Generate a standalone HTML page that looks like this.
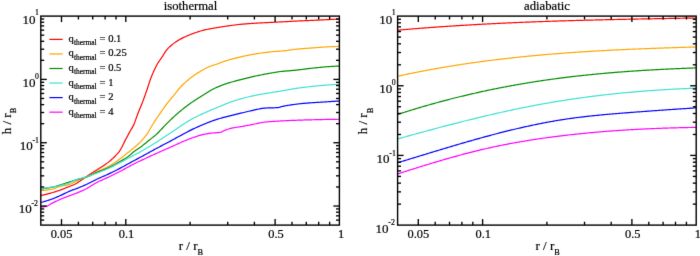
<!DOCTYPE html>
<html><head><meta charset="utf-8"><style>
html,body{margin:0;padding:0;background:#fff;width:700px;height:256px;overflow:hidden}
svg{display:block;will-change:transform}
.wrap{}
text{font-family:"Liberation Serif", serif;fill:#000;stroke:#000;stroke-width:0.2px}
</style></head><body>
<div class="wrap"><svg width="700" height="256" viewBox="0 0 700 256">
<defs><filter id="bl" x="0" y="0" width="700" height="256" filterUnits="userSpaceOnUse" color-interpolation-filters="sRGB"><feConvolveMatrix order="3" kernelMatrix="0.0064 0.0672 0.0064 0.0672 0.7056 0.0672 0.0064 0.0672 0.0064" edgeMode="duplicate"/></filter></defs>
<rect width="700" height="256" fill="#fff"/>
<g filter="url(#bl)">
<rect width="700" height="256" fill="#fff"/>
<defs><clipPath id="c1"><rect x="40.8" y="16.1" width="298.59999999999997" height="209.0"/></clipPath><clipPath id="c2"><rect x="397.6" y="16.1" width="298.6" height="209.0"/></clipPath></defs>
<g clip-path="url(#c1)">
<polyline points="40.8,195.50 41.8,195.29 42.8,195.07 43.8,194.84 44.8,194.61 45.8,194.36 46.8,194.12 47.8,193.86 48.8,193.60 49.8,193.33 50.8,193.06 51.8,192.78 52.8,192.50 53.8,192.21 54.8,191.91 55.8,191.60 56.8,191.28 57.8,190.94 58.8,190.60 59.8,190.25 60.8,189.88 61.8,189.50 62.8,189.11 63.8,188.71 64.8,188.30 65.8,187.89 66.8,187.48 67.8,187.08 68.8,186.69 69.8,186.31 70.8,185.94 71.8,185.56 72.8,185.17 73.8,184.75 74.8,184.30 75.8,183.79 76.8,183.20 77.8,182.53 78.8,181.83 79.8,181.13 80.8,180.47 81.8,179.80 82.8,179.13 83.8,178.45 84.8,177.78 85.8,177.10 86.8,176.43 87.8,175.76 88.8,175.10 89.8,174.44 90.8,173.78 91.8,173.12 92.8,172.47 93.8,171.82 94.8,171.17 95.8,170.53 96.8,169.90 97.8,169.28 98.8,168.67 99.8,168.06 100.8,167.43 101.8,166.79 102.8,166.14 103.8,165.47 104.8,164.79 105.8,164.10 106.8,163.39 107.8,162.64 108.8,161.86 109.8,161.05 110.8,160.19 111.8,159.31 112.8,158.39 113.8,157.44 114.8,156.45 115.8,155.45 116.8,154.42 117.8,153.32 118.8,152.10 119.8,150.72 120.8,149.07 121.8,147.21 122.8,145.22 123.8,143.17 124.8,141.14 125.8,139.23 126.8,137.35 127.8,135.47 128.8,133.61 129.8,131.78 130.8,130.01 131.8,128.37 132.8,126.66 133.8,124.63 134.8,122.16 135.8,119.40 136.8,116.54 137.8,113.78 138.8,111.24 139.8,108.80 140.8,106.40 141.8,103.95 142.8,101.40 143.8,98.71 144.8,95.93 145.8,93.08 146.8,90.21 147.8,87.22 148.8,84.13 149.8,81.09 150.8,78.26 151.8,75.75 152.8,73.37 153.8,71.11 154.8,68.97 155.8,66.95 156.8,65.05 157.8,63.29 158.8,61.69 159.8,60.22 160.8,58.81 161.8,57.39 162.8,55.89 163.8,54.28 164.8,52.67 165.8,51.16 166.8,49.86 167.8,48.71 168.8,47.66 169.8,46.69 170.8,45.79 171.8,44.94 172.8,44.13 173.8,43.36 174.8,42.63 175.8,41.92 176.8,41.26 177.8,40.62 178.8,40.02 179.8,39.44 180.8,38.90 181.8,38.38 182.8,37.88 183.8,37.40 184.8,36.94 185.8,36.49 186.8,36.04 187.8,35.61 188.8,35.18 189.8,34.76 190.8,34.35 191.8,33.95 192.8,33.57 193.8,33.21 194.8,32.87 195.8,32.54 196.8,32.21 197.8,31.90 198.8,31.59 199.8,31.29 200.8,31.00 201.8,30.72 202.8,30.45 203.8,30.19 204.8,29.94 205.8,29.70 206.8,29.48 207.8,29.27 208.8,29.06 209.8,28.87 210.8,28.68 211.8,28.50 212.8,28.33 213.8,28.16 214.8,27.99 215.8,27.83 216.8,27.66 217.8,27.50 218.8,27.33 219.8,27.17 220.8,27.01 221.8,26.85 222.8,26.69 223.8,26.53 224.8,26.38 225.8,26.23 226.8,26.08 227.8,25.93 228.8,25.79 229.8,25.65 230.8,25.52 231.8,25.39 232.8,25.25 233.8,25.12 234.8,25.00 235.8,24.87 236.8,24.75 237.8,24.63 238.8,24.52 239.8,24.41 240.8,24.31 241.8,24.21 242.8,24.12 243.8,24.03 244.8,23.94 245.8,23.86 246.8,23.78 247.8,23.70 248.8,23.63 249.8,23.55 250.8,23.48 251.8,23.42 252.8,23.35 253.8,23.29 254.8,23.23 255.8,23.17 256.8,23.11 257.8,23.06 258.8,23.01 259.8,22.96 260.8,22.91 261.8,22.86 262.8,22.81 263.8,22.76 264.8,22.71 265.8,22.66 266.8,22.61 267.8,22.56 268.8,22.50 269.8,22.45 270.8,22.40 271.8,22.35 272.8,22.30 273.8,22.25 274.8,22.20 275.8,22.15 276.8,22.09 277.8,22.04 278.8,21.99 279.8,21.94 280.8,21.89 281.8,21.84 282.8,21.79 283.8,21.74 284.8,21.68 285.8,21.63 286.8,21.58 287.8,21.53 288.8,21.48 289.8,21.43 290.8,21.38 291.8,21.32 292.8,21.27 293.8,21.22 294.8,21.17 295.8,21.12 296.8,21.07 297.8,21.02 298.8,20.97 299.8,20.92 300.8,20.87 301.8,20.83 302.8,20.78 303.8,20.74 304.8,20.70 305.8,20.66 306.8,20.62 307.8,20.58 308.8,20.54 309.8,20.49 310.8,20.45 311.8,20.40 312.8,20.36 313.8,20.31 314.8,20.26 315.8,20.21 316.8,20.16 317.8,20.10 318.8,20.05 319.8,20.00 320.8,19.95 321.8,19.89 322.8,19.84 323.8,19.79 324.8,19.74 325.8,19.69 326.8,19.64 327.8,19.59 328.8,19.54 329.8,19.48 330.8,19.43 331.8,19.38 332.8,19.33 333.8,19.28 334.8,19.23 335.8,19.18 336.8,19.13 337.8,19.08 338.8,19.03 339.4,19.00" fill="none" stroke="#ff0000" stroke-width="1.2" stroke-linejoin="round"/>
<polyline points="40.8,190.50 41.8,190.49 42.8,190.44 43.8,190.38 44.8,190.29 45.8,190.18 46.8,190.06 47.8,189.92 48.8,189.77 49.8,189.60 50.8,189.43 51.8,189.25 52.8,189.04 53.8,188.73 54.8,188.35 55.8,187.92 56.8,187.47 57.8,187.04 58.8,186.66 59.8,186.35 60.8,186.12 61.8,185.94 62.8,185.78 63.8,185.64 64.8,185.49 65.8,185.34 66.8,185.16 67.8,184.95 68.8,184.68 69.8,184.34 70.8,183.94 71.8,183.49 72.8,183.01 73.8,182.50 74.8,181.97 75.8,181.44 76.8,180.91 77.8,180.40 78.8,179.92 79.8,179.48 80.8,179.08 81.8,178.71 82.8,178.36 83.8,178.02 84.8,177.68 85.8,177.33 86.8,176.96 87.8,176.57 88.8,176.14 89.8,175.66 90.8,175.12 91.8,174.54 92.8,173.94 93.8,173.33 94.8,172.75 95.8,172.20 96.8,171.71 97.8,171.24 98.8,170.79 99.8,170.36 100.8,169.94 101.8,169.53 102.8,169.12 103.8,168.70 104.8,168.27 105.8,167.83 106.8,167.36 107.8,166.86 108.8,166.34 109.8,165.78 110.8,165.19 111.8,164.57 112.8,163.93 113.8,163.27 114.8,162.59 115.8,161.90 116.8,161.20 117.8,160.50 118.8,159.78 119.8,159.04 120.8,158.28 121.8,157.50 122.8,156.72 123.8,155.93 124.8,155.13 125.8,154.34 126.8,153.55 127.8,152.77 128.8,151.97 129.8,151.17 130.8,150.36 131.8,149.54 132.8,148.71 133.8,147.86 134.8,147.01 135.8,146.17 136.8,145.31 137.8,144.43 138.8,143.52 139.8,142.57 140.8,141.57 141.8,140.51 142.8,139.39 143.8,138.21 144.8,136.97 145.8,135.66 146.8,134.30 147.8,132.86 148.8,131.25 149.8,129.52 150.8,127.73 151.8,125.97 152.8,124.30 153.8,122.73 154.8,121.19 155.8,119.69 156.8,118.21 157.8,116.75 158.8,115.30 159.8,113.85 160.8,112.41 161.8,110.96 162.8,109.51 163.8,108.06 164.8,106.63 165.8,105.22 166.8,103.85 167.8,102.52 168.8,101.25 169.8,100.04 170.8,98.89 171.8,97.75 172.8,96.61 173.8,95.42 174.8,94.17 175.8,92.86 176.8,91.53 177.8,90.23 178.8,89.00 179.8,87.85 180.8,86.77 181.8,85.73 182.8,84.73 183.8,83.76 184.8,82.83 185.8,81.92 186.8,81.04 187.8,80.18 188.8,79.34 189.8,78.53 190.8,77.74 191.8,76.97 192.8,76.23 193.8,75.52 194.8,74.82 195.8,74.15 196.8,73.50 197.8,72.87 198.8,72.25 199.8,71.65 200.8,71.06 201.8,70.48 202.8,69.91 203.8,69.34 204.8,68.79 205.8,68.26 206.8,67.75 207.8,67.27 208.8,66.83 209.8,66.44 210.8,66.07 211.8,65.74 212.8,65.42 213.8,65.10 214.8,64.79 215.8,64.47 216.8,64.14 217.8,63.78 218.8,63.40 219.8,63.01 220.8,62.62 221.8,62.24 222.8,61.86 223.8,61.50 224.8,61.16 225.8,60.85 226.8,60.54 227.8,60.24 228.8,59.94 229.8,59.66 230.8,59.37 231.8,59.10 232.8,58.83 233.8,58.56 234.8,58.30 235.8,58.05 236.8,57.80 237.8,57.56 238.8,57.32 239.8,57.08 240.8,56.85 241.8,56.63 242.8,56.40 243.8,56.18 244.8,55.97 245.8,55.75 246.8,55.54 247.8,55.34 248.8,55.14 249.8,54.94 250.8,54.75 251.8,54.56 252.8,54.38 253.8,54.21 254.8,54.04 255.8,53.87 256.8,53.71 257.8,53.56 258.8,53.41 259.8,53.26 260.8,53.11 261.8,52.97 262.8,52.83 263.8,52.70 264.8,52.56 265.8,52.44 266.8,52.31 267.8,52.19 268.8,52.08 269.8,51.97 270.8,51.86 271.8,51.76 272.8,51.66 273.8,51.58 274.8,51.50 275.8,51.42 276.8,51.35 277.8,51.28 278.8,51.21 279.8,51.13 280.8,51.06 281.8,50.99 282.8,50.90 283.8,50.82 284.8,50.72 285.8,50.61 286.8,50.49 287.8,50.35 288.8,50.20 289.8,50.05 290.8,49.90 291.8,49.75 292.8,49.60 293.8,49.46 294.8,49.34 295.8,49.23 296.8,49.13 297.8,49.04 298.8,48.95 299.8,48.86 300.8,48.78 301.8,48.70 302.8,48.62 303.8,48.54 304.8,48.47 305.8,48.40 306.8,48.32 307.8,48.25 308.8,48.18 309.8,48.11 310.8,48.03 311.8,47.96 312.8,47.88 313.8,47.81 314.8,47.73 315.8,47.65 316.8,47.57 317.8,47.50 318.8,47.42 319.8,47.35 320.8,47.28 321.8,47.21 322.8,47.14 323.8,47.08 324.8,47.02 325.8,46.96 326.8,46.91 327.8,46.86 328.8,46.81 329.8,46.76 330.8,46.71 331.8,46.67 332.8,46.63 333.8,46.59 334.8,46.55 335.8,46.51 336.8,46.48 337.8,46.45 338.8,46.42 339.4,46.40" fill="none" stroke="#ffa500" stroke-width="1.2" stroke-linejoin="round"/>
<polyline points="40.8,189.00 41.8,188.90 42.8,188.79 43.8,188.66 44.8,188.52 45.8,188.37 46.8,188.21 47.8,188.03 48.8,187.85 49.8,187.66 50.8,187.46 51.8,187.26 52.8,187.05 53.8,186.81 54.8,186.54 55.8,186.26 56.8,185.97 57.8,185.66 58.8,185.36 59.8,185.06 60.8,184.76 61.8,184.46 62.8,184.14 63.8,183.83 64.8,183.50 65.8,183.18 66.8,182.85 67.8,182.52 68.8,182.19 69.8,181.86 70.8,181.53 71.8,181.20 72.8,180.88 73.8,180.56 74.8,180.25 75.8,179.94 76.8,179.64 77.8,179.36 78.8,179.08 79.8,178.81 80.8,178.55 81.8,178.28 82.8,178.01 83.8,177.73 84.8,177.44 85.8,177.14 86.8,176.83 87.8,176.49 88.8,176.14 89.8,175.74 90.8,175.29 91.8,174.81 92.8,174.31 93.8,173.80 94.8,173.30 95.8,172.84 96.8,172.41 97.8,172.00 98.8,171.60 99.8,171.21 100.8,170.83 101.8,170.46 102.8,170.08 103.8,169.70 104.8,169.32 105.8,168.92 106.8,168.50 107.8,168.07 108.8,167.61 109.8,167.13 110.8,166.63 111.8,166.11 112.8,165.58 113.8,165.03 114.8,164.47 115.8,163.91 116.8,163.33 117.8,162.75 118.8,162.17 119.8,161.59 120.8,161.02 121.8,160.44 122.8,159.88 123.8,159.32 124.8,158.74 125.8,158.14 126.8,157.51 127.8,156.84 128.8,156.09 129.8,155.25 130.8,154.35 131.8,153.45 132.8,152.58 133.8,151.79 134.8,151.06 135.8,150.36 136.8,149.68 137.8,149.01 138.8,148.34 139.8,147.65 140.8,146.93 141.8,146.18 142.8,145.40 143.8,144.59 144.8,143.77 145.8,142.94 146.8,142.11 147.8,141.28 148.8,140.46 149.8,139.67 150.8,138.89 151.8,138.13 152.8,137.36 153.8,136.57 154.8,135.75 155.8,134.89 156.8,133.97 157.8,132.99 158.8,131.97 159.8,130.92 160.8,129.85 161.8,128.78 162.8,127.73 163.8,126.70 164.8,125.68 165.8,124.66 166.8,123.65 167.8,122.63 168.8,121.63 169.8,120.64 170.8,119.66 171.8,118.71 172.8,117.77 173.8,116.85 174.8,115.93 175.8,115.03 176.8,114.14 177.8,113.27 178.8,112.41 179.8,111.56 180.8,110.73 181.8,109.91 182.8,109.11 183.8,108.31 184.8,107.53 185.8,106.76 186.8,106.00 187.8,105.25 188.8,104.52 189.8,103.79 190.8,103.08 191.8,102.38 192.8,101.69 193.8,101.00 194.8,100.33 195.8,99.67 196.8,99.03 197.8,98.39 198.8,97.76 199.8,97.14 200.8,96.53 201.8,95.91 202.8,95.30 203.8,94.68 204.8,94.05 205.8,93.42 206.8,92.78 207.8,92.15 208.8,91.53 209.8,90.93 210.8,90.34 211.8,89.78 212.8,89.25 213.8,88.75 214.8,88.28 215.8,87.81 216.8,87.36 217.8,86.92 218.8,86.50 219.8,86.08 220.8,85.68 221.8,85.29 222.8,84.91 223.8,84.54 224.8,84.18 225.8,83.83 226.8,83.50 227.8,83.17 228.8,82.86 229.8,82.56 230.8,82.27 231.8,81.99 232.8,81.72 233.8,81.46 234.8,81.19 235.8,80.94 236.8,80.68 237.8,80.43 238.8,80.17 239.8,79.92 240.8,79.65 241.8,79.39 242.8,79.12 243.8,78.85 244.8,78.59 245.8,78.33 246.8,78.07 247.8,77.82 248.8,77.58 249.8,77.34 250.8,77.11 251.8,76.88 252.8,76.65 253.8,76.43 254.8,76.21 255.8,75.99 256.8,75.78 257.8,75.58 258.8,75.37 259.8,75.17 260.8,74.97 261.8,74.77 262.8,74.57 263.8,74.38 264.8,74.19 265.8,74.00 266.8,73.81 267.8,73.63 268.8,73.45 269.8,73.27 270.8,73.09 271.8,72.92 272.8,72.74 273.8,72.57 274.8,72.39 275.8,72.22 276.8,72.05 277.8,71.90 278.8,71.75 279.8,71.62 280.8,71.51 281.8,71.40 282.8,71.30 283.8,71.21 284.8,71.12 285.8,71.03 286.8,70.95 287.8,70.87 288.8,70.79 289.8,70.71 290.8,70.63 291.8,70.55 292.8,70.46 293.8,70.38 294.8,70.28 295.8,70.18 296.8,70.07 297.8,69.96 298.8,69.84 299.8,69.72 300.8,69.60 301.8,69.47 302.8,69.34 303.8,69.21 304.8,69.08 305.8,68.96 306.8,68.83 307.8,68.70 308.8,68.58 309.8,68.46 310.8,68.35 311.8,68.24 312.8,68.13 313.8,68.02 314.8,67.91 315.8,67.80 316.8,67.70 317.8,67.59 318.8,67.48 319.8,67.38 320.8,67.28 321.8,67.19 322.8,67.09 323.8,67.00 324.8,66.92 325.8,66.83 326.8,66.76 327.8,66.68 328.8,66.61 329.8,66.54 330.8,66.48 331.8,66.41 332.8,66.35 333.8,66.29 334.8,66.23 335.8,66.17 336.8,66.12 337.8,66.07 338.8,66.03 339.4,66.00" fill="none" stroke="#008b00" stroke-width="1.2" stroke-linejoin="round"/>
<polyline points="40.8,188.50 41.8,188.40 42.8,188.29 43.8,188.18 44.8,188.06 45.8,187.93 46.8,187.80 47.8,187.66 48.8,187.51 49.8,187.36 50.8,187.21 51.8,187.05 52.8,186.88 53.8,186.72 54.8,186.55 55.8,186.37 56.8,186.19 57.8,186.00 58.8,185.80 59.8,185.60 60.8,185.38 61.8,185.16 62.8,184.92 63.8,184.68 64.8,184.42 65.8,184.15 66.8,183.86 67.8,183.56 68.8,183.22 69.8,182.80 70.8,182.32 71.8,181.80 72.8,181.28 73.8,180.78 74.8,180.32 75.8,179.93 76.8,179.58 77.8,179.26 78.8,178.95 79.8,178.66 80.8,178.39 81.8,178.12 82.8,177.85 83.8,177.59 84.8,177.32 85.8,177.05 86.8,176.76 87.8,176.46 88.8,176.13 89.8,175.79 90.8,175.43 91.8,175.05 92.8,174.66 93.8,174.27 94.8,173.87 95.8,173.48 96.8,173.09 97.8,172.70 98.8,172.32 99.8,171.94 100.8,171.55 101.8,171.16 102.8,170.77 103.8,170.38 104.8,169.97 105.8,169.56 106.8,169.14 107.8,168.71 108.8,168.27 109.8,167.81 110.8,167.33 111.8,166.85 112.8,166.35 113.8,165.85 114.8,165.34 115.8,164.82 116.8,164.30 117.8,163.77 118.8,163.25 119.8,162.72 120.8,162.20 121.8,161.68 122.8,161.16 123.8,160.63 124.8,160.10 125.8,159.57 126.8,159.04 127.8,158.51 128.8,157.98 129.8,157.45 130.8,156.92 131.8,156.39 132.8,155.87 133.8,155.34 134.8,154.81 135.8,154.28 136.8,153.75 137.8,153.21 138.8,152.66 139.8,152.11 140.8,151.55 141.8,150.99 142.8,150.42 143.8,149.84 144.8,149.26 145.8,148.68 146.8,148.09 147.8,147.49 148.8,146.89 149.8,146.29 150.8,145.68 151.8,145.07 152.8,144.46 153.8,143.84 154.8,143.22 155.8,142.59 156.8,141.96 157.8,141.33 158.8,140.68 159.8,140.03 160.8,139.37 161.8,138.70 162.8,138.04 163.8,137.37 164.8,136.70 165.8,136.03 166.8,135.37 167.8,134.70 168.8,134.04 169.8,133.38 170.8,132.72 171.8,132.06 172.8,131.40 173.8,130.73 174.8,130.07 175.8,129.40 176.8,128.73 177.8,128.05 178.8,127.36 179.8,126.67 180.8,125.98 181.8,125.29 182.8,124.62 183.8,123.95 184.8,123.30 185.8,122.68 186.8,122.06 187.8,121.45 188.8,120.86 189.8,120.27 190.8,119.69 191.8,119.12 192.8,118.57 193.8,118.03 194.8,117.50 195.8,116.99 196.8,116.49 197.8,116.00 198.8,115.52 199.8,115.04 200.8,114.58 201.8,114.12 202.8,113.67 203.8,113.22 204.8,112.77 205.8,112.33 206.8,111.89 207.8,111.45 208.8,111.01 209.8,110.58 210.8,110.15 211.8,109.72 212.8,109.30 213.8,108.88 214.8,108.46 215.8,108.05 216.8,107.64 217.8,107.22 218.8,106.81 219.8,106.40 220.8,105.99 221.8,105.58 222.8,105.16 223.8,104.74 224.8,104.33 225.8,103.92 226.8,103.52 227.8,103.12 228.8,102.74 229.8,102.37 230.8,102.02 231.8,101.67 232.8,101.33 233.8,101.00 234.8,100.68 235.8,100.36 236.8,100.05 237.8,99.74 238.8,99.45 239.8,99.16 240.8,98.87 241.8,98.59 242.8,98.31 243.8,98.04 244.8,97.77 245.8,97.51 246.8,97.25 247.8,97.00 248.8,96.76 249.8,96.53 250.8,96.30 251.8,96.08 252.8,95.87 253.8,95.66 254.8,95.46 255.8,95.26 256.8,95.07 257.8,94.88 258.8,94.70 259.8,94.51 260.8,94.33 261.8,94.16 262.8,93.98 263.8,93.81 264.8,93.63 265.8,93.46 266.8,93.30 267.8,93.13 268.8,92.97 269.8,92.81 270.8,92.65 271.8,92.50 272.8,92.34 273.8,92.19 274.8,92.03 275.8,91.87 276.8,91.71 277.8,91.55 278.8,91.39 279.8,91.22 280.8,91.05 281.8,90.88 282.8,90.70 283.8,90.53 284.8,90.35 285.8,90.17 286.8,90.00 287.8,89.82 288.8,89.64 289.8,89.47 290.8,89.29 291.8,89.12 292.8,88.95 293.8,88.78 294.8,88.62 295.8,88.46 296.8,88.30 297.8,88.15 298.8,88.00 299.8,87.86 300.8,87.72 301.8,87.59 302.8,87.46 303.8,87.34 304.8,87.22 305.8,87.10 306.8,86.98 307.8,86.87 308.8,86.76 309.8,86.64 310.8,86.53 311.8,86.43 312.8,86.32 313.8,86.22 314.8,86.12 315.8,86.02 316.8,85.92 317.8,85.82 318.8,85.73 319.8,85.64 320.8,85.55 321.8,85.46 322.8,85.38 323.8,85.29 324.8,85.21 325.8,85.13 326.8,85.05 327.8,84.98 328.8,84.90 329.8,84.83 330.8,84.76 331.8,84.70 332.8,84.63 333.8,84.57 334.8,84.51 335.8,84.45 336.8,84.39 337.8,84.33 338.8,84.28 339.4,84.25" fill="none" stroke="#40e0d0" stroke-width="1.2" stroke-linejoin="round"/>
<polyline points="40.8,202.50 41.8,202.25 42.8,201.98 43.8,201.70 44.8,201.41 45.8,201.11 46.8,200.80 47.8,200.48 48.8,200.15 49.8,199.81 50.8,199.46 51.8,199.11 52.8,198.74 53.8,198.36 54.8,197.96 55.8,197.54 56.8,197.11 57.8,196.67 58.8,196.23 59.8,195.79 60.8,195.34 61.8,194.87 62.8,194.39 63.8,193.90 64.8,193.41 65.8,192.92 66.8,192.44 67.8,191.97 68.8,191.51 69.8,191.08 70.8,190.68 71.8,190.30 72.8,189.93 73.8,189.58 74.8,189.22 75.8,188.86 76.8,188.48 77.8,188.08 78.8,187.69 79.8,187.28 80.8,186.87 81.8,186.46 82.8,186.03 83.8,185.60 84.8,185.16 85.8,184.71 86.8,184.24 87.8,183.75 88.8,183.25 89.8,182.74 90.8,182.22 91.8,181.71 92.8,181.19 93.8,180.68 94.8,180.18 95.8,179.70 96.8,179.22 97.8,178.77 98.8,178.31 99.8,177.87 100.8,177.43 101.8,176.99 102.8,176.56 103.8,176.12 104.8,175.68 105.8,175.24 106.8,174.79 107.8,174.33 108.8,173.86 109.8,173.38 110.8,172.90 111.8,172.42 112.8,171.93 113.8,171.43 114.8,170.93 115.8,170.43 116.8,169.92 117.8,169.41 118.8,168.90 119.8,168.38 120.8,167.86 121.8,167.32 122.8,166.78 123.8,166.23 124.8,165.67 125.8,165.12 126.8,164.56 127.8,164.01 128.8,163.46 129.8,162.92 130.8,162.38 131.8,161.84 132.8,161.30 133.8,160.76 134.8,160.23 135.8,159.69 136.8,159.15 137.8,158.61 138.8,158.08 139.8,157.54 140.8,156.99 141.8,156.45 142.8,155.91 143.8,155.36 144.8,154.81 145.8,154.26 146.8,153.71 147.8,153.16 148.8,152.61 149.8,152.06 150.8,151.51 151.8,150.97 152.8,150.42 153.8,149.87 154.8,149.33 155.8,148.79 156.8,148.25 157.8,147.72 158.8,147.19 159.8,146.66 160.8,146.14 161.8,145.61 162.8,145.09 163.8,144.57 164.8,144.05 165.8,143.52 166.8,143.00 167.8,142.47 168.8,141.94 169.8,141.41 170.8,140.87 171.8,140.33 172.8,139.78 173.8,139.23 174.8,138.68 175.8,138.13 176.8,137.58 177.8,137.03 178.8,136.48 179.8,135.94 180.8,135.41 181.8,134.87 182.8,134.34 183.8,133.80 184.8,133.27 185.8,132.73 186.8,132.20 187.8,131.67 188.8,131.14 189.8,130.62 190.8,130.12 191.8,129.62 192.8,129.13 193.8,128.65 194.8,128.19 195.8,127.74 196.8,127.29 197.8,126.85 198.8,126.41 199.8,125.97 200.8,125.54 201.8,125.11 202.8,124.68 203.8,124.26 204.8,123.85 205.8,123.44 206.8,123.03 207.8,122.64 208.8,122.25 209.8,121.86 210.8,121.49 211.8,121.12 212.8,120.76 213.8,120.40 214.8,120.06 215.8,119.73 216.8,119.40 217.8,119.08 218.8,118.78 219.8,118.49 220.8,118.21 221.8,117.94 222.8,117.68 223.8,117.43 224.8,117.18 225.8,116.93 226.8,116.69 227.8,116.45 228.8,116.20 229.8,115.95 230.8,115.70 231.8,115.44 232.8,115.19 233.8,114.94 234.8,114.69 235.8,114.44 236.8,114.19 237.8,113.94 238.8,113.69 239.8,113.45 240.8,113.20 241.8,112.95 242.8,112.71 243.8,112.46 244.8,112.21 245.8,111.96 246.8,111.72 247.8,111.48 248.8,111.24 249.8,111.02 250.8,110.80 251.8,110.58 252.8,110.36 253.8,110.13 254.8,109.90 255.8,109.67 256.8,109.44 257.8,109.22 258.8,109.01 259.8,108.81 260.8,108.62 261.8,108.46 262.8,108.32 263.8,108.20 264.8,108.11 265.8,108.05 266.8,108.00 267.8,107.96 268.8,107.93 269.8,107.90 270.8,107.88 271.8,107.85 272.8,107.83 273.8,107.79 274.8,107.76 275.8,107.71 276.8,107.65 277.8,107.57 278.8,107.39 279.8,107.13 280.8,106.83 281.8,106.53 282.8,106.30 283.8,106.11 284.8,105.93 285.8,105.75 286.8,105.58 287.8,105.41 288.8,105.25 289.8,105.09 290.8,104.94 291.8,104.79 292.8,104.65 293.8,104.51 294.8,104.37 295.8,104.24 296.8,104.12 297.8,104.00 298.8,103.88 299.8,103.77 300.8,103.67 301.8,103.57 302.8,103.47 303.8,103.38 304.8,103.29 305.8,103.21 306.8,103.12 307.8,103.04 308.8,102.97 309.8,102.89 310.8,102.82 311.8,102.75 312.8,102.68 313.8,102.61 314.8,102.55 315.8,102.48 316.8,102.42 317.8,102.36 318.8,102.29 319.8,102.23 320.8,102.17 321.8,102.11 322.8,102.05 323.8,101.99 324.8,101.92 325.8,101.86 326.8,101.80 327.8,101.73 328.8,101.66 329.8,101.60 330.8,101.54 331.8,101.47 332.8,101.41 333.8,101.35 334.8,101.28 335.8,101.22 336.8,101.16 337.8,101.10 338.8,101.04 339.4,101.00" fill="none" stroke="#0000ff" stroke-width="1.2" stroke-linejoin="round"/>
<polyline points="40.8,207.00 41.8,206.98 42.8,206.91 43.8,206.81 44.8,206.68 45.8,206.53 46.8,206.29 47.8,205.85 48.8,205.27 49.8,204.62 50.8,203.96 51.8,203.36 52.8,202.85 53.8,202.36 54.8,201.87 55.8,201.40 56.8,200.93 57.8,200.47 58.8,200.03 59.8,199.59 60.8,199.16 61.8,198.74 62.8,198.32 63.8,197.92 64.8,197.52 65.8,197.12 66.8,196.73 67.8,196.35 68.8,195.96 69.8,195.58 70.8,195.20 71.8,194.83 72.8,194.47 73.8,194.11 74.8,193.74 75.8,193.37 76.8,192.98 77.8,192.58 78.8,192.17 79.8,191.75 80.8,191.33 81.8,190.89 82.8,190.44 83.8,189.98 84.8,189.50 85.8,189.00 86.8,188.46 87.8,187.89 88.8,187.28 89.8,186.66 90.8,186.02 91.8,185.39 92.8,184.76 93.8,184.15 94.8,183.56 95.8,183.01 96.8,182.49 97.8,181.99 98.8,181.51 99.8,181.04 100.8,180.58 101.8,180.13 102.8,179.69 103.8,179.24 104.8,178.80 105.8,178.35 106.8,177.90 107.8,177.43 108.8,176.96 109.8,176.48 110.8,175.99 111.8,175.51 112.8,175.02 113.8,174.53 114.8,174.04 115.8,173.54 116.8,173.04 117.8,172.54 118.8,172.03 119.8,171.52 120.8,171.00 121.8,170.48 122.8,169.94 123.8,169.40 124.8,168.85 125.8,168.30 126.8,167.75 127.8,167.21 128.8,166.67 129.8,166.12 130.8,165.58 131.8,165.05 132.8,164.54 133.8,164.03 134.8,163.53 135.8,163.03 136.8,162.54 137.8,162.05 138.8,161.56 139.8,161.08 140.8,160.60 141.8,160.12 142.8,159.65 143.8,159.18 144.8,158.71 145.8,158.24 146.8,157.77 147.8,157.31 148.8,156.84 149.8,156.38 150.8,155.92 151.8,155.46 152.8,155.01 153.8,154.56 154.8,154.11 155.8,153.66 156.8,153.21 157.8,152.77 158.8,152.32 159.8,151.88 160.8,151.44 161.8,151.00 162.8,150.56 163.8,150.12 164.8,149.68 165.8,149.25 166.8,148.81 167.8,148.37 168.8,147.93 169.8,147.49 170.8,147.05 171.8,146.60 172.8,146.15 173.8,145.69 174.8,145.24 175.8,144.78 176.8,144.32 177.8,143.86 178.8,143.41 179.8,142.96 180.8,142.51 181.8,142.06 182.8,141.63 183.8,141.20 184.8,140.77 185.8,140.36 186.8,139.95 187.8,139.56 188.8,139.18 189.8,138.80 190.8,138.43 191.8,138.06 192.8,137.69 193.8,137.33 194.8,136.98 195.8,136.64 196.8,136.31 197.8,135.99 198.8,135.69 199.8,135.41 200.8,135.15 201.8,134.90 202.8,134.66 203.8,134.43 204.8,134.20 205.8,133.99 206.8,133.79 207.8,133.60 208.8,133.44 209.8,133.30 210.8,133.18 211.8,133.08 212.8,133.00 213.8,132.93 214.8,132.87 215.8,132.79 216.8,132.71 217.8,132.62 218.8,132.53 219.8,132.41 220.8,132.23 221.8,131.86 222.8,131.34 223.8,130.81 224.8,130.36 225.8,130.00 226.8,129.64 227.8,129.30 228.8,128.98 229.8,128.68 230.8,128.40 231.8,128.16 232.8,127.94 233.8,127.75 234.8,127.58 235.8,127.43 236.8,127.28 237.8,127.14 238.8,126.99 239.8,126.83 240.8,126.66 241.8,126.49 242.8,126.32 243.8,126.14 244.8,125.96 245.8,125.78 246.8,125.59 247.8,125.41 248.8,125.22 249.8,125.04 250.8,124.85 251.8,124.65 252.8,124.44 253.8,124.22 254.8,124.00 255.8,123.78 256.8,123.56 257.8,123.34 258.8,123.13 259.8,122.93 260.8,122.74 261.8,122.56 262.8,122.39 263.8,122.25 264.8,122.12 265.8,122.01 266.8,121.92 267.8,121.82 268.8,121.74 269.8,121.66 270.8,121.58 271.8,121.51 272.8,121.44 273.8,121.38 274.8,121.31 275.8,121.25 276.8,121.19 277.8,121.12 278.8,121.06 279.8,121.01 280.8,120.95 281.8,120.89 282.8,120.84 283.8,120.79 284.8,120.74 285.8,120.69 286.8,120.64 287.8,120.59 288.8,120.55 289.8,120.51 290.8,120.47 291.8,120.43 292.8,120.39 293.8,120.35 294.8,120.31 295.8,120.28 296.8,120.24 297.8,120.20 298.8,120.17 299.8,120.13 300.8,120.10 301.8,120.07 302.8,120.04 303.8,120.00 304.8,119.97 305.8,119.94 306.8,119.91 307.8,119.89 308.8,119.86 309.8,119.83 310.8,119.80 311.8,119.78 312.8,119.75 313.8,119.73 314.8,119.70 315.8,119.68 316.8,119.66 317.8,119.64 318.8,119.61 319.8,119.59 320.8,119.57 321.8,119.55 322.8,119.53 323.8,119.51 324.8,119.49 325.8,119.47 326.8,119.45 327.8,119.43 328.8,119.41 329.8,119.39 330.8,119.37 331.8,119.36 332.8,119.34 333.8,119.33 334.8,119.31 335.8,119.30 336.8,119.28 337.8,119.27 338.8,119.26 339.4,119.25" fill="none" stroke="#ff00ff" stroke-width="1.2" stroke-linejoin="round"/>
</g><g clip-path="url(#c2)">
<polyline points="397.6,30.20 398.6,30.11 399.6,30.03 400.6,29.94 401.6,29.85 402.6,29.76 403.6,29.68 404.6,29.59 405.6,29.50 406.6,29.42 407.6,29.33 408.6,29.25 409.6,29.16 410.6,29.08 411.6,29.00 412.6,28.92 413.6,28.83 414.6,28.75 415.6,28.67 416.6,28.59 417.6,28.51 418.6,28.43 419.6,28.35 420.6,28.27 421.6,28.19 422.6,28.11 423.6,28.04 424.6,27.96 425.6,27.88 426.6,27.81 427.6,27.73 428.6,27.66 429.6,27.58 430.6,27.51 431.6,27.43 432.6,27.36 433.6,27.29 434.6,27.21 435.6,27.14 436.6,27.07 437.6,27.00 438.6,26.93 439.6,26.86 440.6,26.79 441.6,26.72 442.6,26.65 443.6,26.58 444.6,26.51 445.6,26.44 446.6,26.37 447.6,26.31 448.6,26.24 449.6,26.17 450.6,26.11 451.6,26.04 452.6,25.98 453.6,25.91 454.6,25.85 455.6,25.78 456.6,25.72 457.6,25.66 458.6,25.59 459.6,25.53 460.6,25.47 461.6,25.41 462.6,25.35 463.6,25.29 464.6,25.23 465.6,25.17 466.6,25.11 467.6,25.05 468.6,24.99 469.6,24.93 470.6,24.87 471.6,24.81 472.6,24.76 473.6,24.70 474.6,24.64 475.6,24.59 476.6,24.53 477.6,24.47 478.6,24.42 479.6,24.36 480.6,24.31 481.6,24.25 482.6,24.20 483.6,24.15 484.6,24.09 485.6,24.04 486.6,23.99 487.6,23.94 488.6,23.88 489.6,23.83 490.6,23.78 491.6,23.73 492.6,23.68 493.6,23.63 494.6,23.58 495.6,23.53 496.6,23.48 497.6,23.43 498.6,23.38 499.6,23.34 500.6,23.29 501.6,23.24 502.6,23.19 503.6,23.15 504.6,23.10 505.6,23.05 506.6,23.01 507.6,22.96 508.6,22.92 509.6,22.87 510.6,22.83 511.6,22.78 512.6,22.74 513.6,22.70 514.6,22.65 515.6,22.61 516.6,22.57 517.6,22.52 518.6,22.48 519.6,22.44 520.6,22.40 521.6,22.36 522.6,22.31 523.6,22.27 524.6,22.23 525.6,22.19 526.6,22.15 527.6,22.11 528.6,22.07 529.6,22.03 530.6,21.99 531.6,21.96 532.6,21.92 533.6,21.88 534.6,21.84 535.6,21.80 536.6,21.77 537.6,21.73 538.6,21.69 539.6,21.66 540.6,21.62 541.6,21.58 542.6,21.55 543.6,21.51 544.6,21.48 545.6,21.44 546.6,21.41 547.6,21.37 548.6,21.34 549.6,21.30 550.6,21.27 551.6,21.24 552.6,21.20 553.6,21.17 554.6,21.14 555.6,21.10 556.6,21.07 557.6,21.04 558.6,21.01 559.6,20.97 560.6,20.94 561.6,20.91 562.6,20.88 563.6,20.85 564.6,20.82 565.6,20.79 566.6,20.76 567.6,20.73 568.6,20.70 569.6,20.67 570.6,20.64 571.6,20.61 572.6,20.58 573.6,20.55 574.6,20.52 575.6,20.49 576.6,20.47 577.6,20.44 578.6,20.41 579.6,20.38 580.6,20.35 581.6,20.33 582.6,20.30 583.6,20.27 584.6,20.25 585.6,20.22 586.6,20.19 587.6,20.17 588.6,20.14 589.6,20.12 590.6,20.09 591.6,20.06 592.6,20.04 593.6,20.01 594.6,19.99 595.6,19.96 596.6,19.94 597.6,19.91 598.6,19.89 599.6,19.87 600.6,19.84 601.6,19.82 602.6,19.79 603.6,19.77 604.6,19.75 605.6,19.72 606.6,19.70 607.6,19.68 608.6,19.65 609.6,19.63 610.6,19.61 611.6,19.59 612.6,19.56 613.6,19.54 614.6,19.52 615.6,19.50 616.6,19.48 617.6,19.45 618.6,19.43 619.6,19.41 620.6,19.39 621.6,19.37 622.6,19.35 623.6,19.33 624.6,19.30 625.6,19.28 626.6,19.26 627.6,19.24 628.6,19.22 629.6,19.20 630.6,19.18 631.6,19.16 632.6,19.14 633.6,19.12 634.6,19.10 635.6,19.08 636.6,19.06 637.6,19.04 638.6,19.02 639.6,19.00 640.6,18.98 641.6,18.97 642.6,18.95 643.6,18.93 644.6,18.91 645.6,18.89 646.6,18.87 647.6,18.85 648.6,18.83 649.6,18.81 650.6,18.80 651.6,18.78 652.6,18.76 653.6,18.74 654.6,18.72 655.6,18.70 656.6,18.69 657.6,18.67 658.6,18.65 659.6,18.63 660.6,18.61 661.6,18.60 662.6,18.58 663.6,18.56 664.6,18.54 665.6,18.53 666.6,18.51 667.6,18.49 668.6,18.47 669.6,18.46 670.6,18.44 671.6,18.42 672.6,18.40 673.6,18.39 674.6,18.37 675.6,18.35 676.6,18.33 677.6,18.32 678.6,18.30 679.6,18.28 680.6,18.27 681.6,18.25 682.6,18.23 683.6,18.21 684.6,18.20 685.6,18.18 686.6,18.16 687.6,18.15 688.6,18.13 689.6,18.11 690.6,18.09 691.6,18.08 692.6,18.06 693.6,18.04 694.6,18.03 695.6,18.01 696.2,18.00" fill="none" stroke="#ff0000" stroke-width="1.2" stroke-linejoin="round"/>
<polyline points="397.6,76.24 398.6,76.02 399.6,75.81 400.6,75.59 401.6,75.37 402.6,75.16 403.6,74.95 404.6,74.73 405.6,74.52 406.6,74.31 407.6,74.11 408.6,73.90 409.6,73.69 410.6,73.49 411.6,73.28 412.6,73.08 413.6,72.88 414.6,72.68 415.6,72.48 416.6,72.28 417.6,72.08 418.6,71.89 419.6,71.69 420.6,71.50 421.6,71.30 422.6,71.11 423.6,70.92 424.6,70.73 425.6,70.54 426.6,70.36 427.6,70.17 428.6,69.98 429.6,69.80 430.6,69.62 431.6,69.43 432.6,69.25 433.6,69.07 434.6,68.89 435.6,68.71 436.6,68.54 437.6,68.36 438.6,68.19 439.6,68.01 440.6,67.84 441.6,67.67 442.6,67.50 443.6,67.33 444.6,67.16 445.6,66.99 446.6,66.82 447.6,66.65 448.6,66.49 449.6,66.33 450.6,66.16 451.6,66.00 452.6,65.84 453.6,65.68 454.6,65.52 455.6,65.36 456.6,65.20 457.6,65.05 458.6,64.89 459.6,64.74 460.6,64.58 461.6,64.43 462.6,64.28 463.6,64.13 464.6,63.98 465.6,63.83 466.6,63.68 467.6,63.53 468.6,63.39 469.6,63.24 470.6,63.10 471.6,62.95 472.6,62.81 473.6,62.67 474.6,62.53 475.6,62.39 476.6,62.25 477.6,62.11 478.6,61.98 479.6,61.84 480.6,61.70 481.6,61.57 482.6,61.44 483.6,61.30 484.6,61.17 485.6,61.04 486.6,60.91 487.6,60.78 488.6,60.65 489.6,60.52 490.6,60.40 491.6,60.27 492.6,60.15 493.6,60.02 494.6,59.90 495.6,59.77 496.6,59.65 497.6,59.53 498.6,59.41 499.6,59.29 500.6,59.17 501.6,59.06 502.6,58.94 503.6,58.82 504.6,58.71 505.6,58.59 506.6,58.48 507.6,58.36 508.6,58.25 509.6,58.14 510.6,58.03 511.6,57.92 512.6,57.81 513.6,57.70 514.6,57.59 515.6,57.49 516.6,57.38 517.6,57.27 518.6,57.17 519.6,57.07 520.6,56.96 521.6,56.86 522.6,56.76 523.6,56.66 524.6,56.56 525.6,56.46 526.6,56.36 527.6,56.26 528.6,56.16 529.6,56.06 530.6,55.97 531.6,55.87 532.6,55.78 533.6,55.68 534.6,55.59 535.6,55.50 536.6,55.41 537.6,55.31 538.6,55.22 539.6,55.13 540.6,55.04 541.6,54.95 542.6,54.87 543.6,54.78 544.6,54.69 545.6,54.61 546.6,54.52 547.6,54.44 548.6,54.35 549.6,54.27 550.6,54.19 551.6,54.10 552.6,54.02 553.6,53.94 554.6,53.86 555.6,53.78 556.6,53.70 557.6,53.62 558.6,53.54 559.6,53.47 560.6,53.39 561.6,53.31 562.6,53.24 563.6,53.16 564.6,53.09 565.6,53.01 566.6,52.94 567.6,52.87 568.6,52.80 569.6,52.72 570.6,52.65 571.6,52.58 572.6,52.51 573.6,52.44 574.6,52.37 575.6,52.30 576.6,52.24 577.6,52.17 578.6,52.10 579.6,52.04 580.6,51.97 581.6,51.91 582.6,51.84 583.6,51.78 584.6,51.71 585.6,51.65 586.6,51.59 587.6,51.53 588.6,51.46 589.6,51.40 590.6,51.34 591.6,51.28 592.6,51.22 593.6,51.16 594.6,51.10 595.6,51.05 596.6,50.99 597.6,50.93 598.6,50.87 599.6,50.82 600.6,50.76 601.6,50.71 602.6,50.65 603.6,50.60 604.6,50.54 605.6,50.49 606.6,50.43 607.6,50.38 608.6,50.33 609.6,50.28 610.6,50.22 611.6,50.17 612.6,50.12 613.6,50.07 614.6,50.02 615.6,49.97 616.6,49.92 617.6,49.87 618.6,49.83 619.6,49.78 620.6,49.73 621.6,49.68 622.6,49.64 623.6,49.59 624.6,49.54 625.6,49.50 626.6,49.45 627.6,49.41 628.6,49.36 629.6,49.32 630.6,49.27 631.6,49.23 632.6,49.19 633.6,49.14 634.6,49.10 635.6,49.06 636.6,49.02 637.6,48.98 638.6,48.93 639.6,48.89 640.6,48.85 641.6,48.81 642.6,48.77 643.6,48.73 644.6,48.69 645.6,48.65 646.6,48.62 647.6,48.58 648.6,48.54 649.6,48.50 650.6,48.46 651.6,48.43 652.6,48.39 653.6,48.35 654.6,48.31 655.6,48.28 656.6,48.24 657.6,48.21 658.6,48.17 659.6,48.13 660.6,48.10 661.6,48.06 662.6,48.03 663.6,48.00 664.6,47.96 665.6,47.93 666.6,47.89 667.6,47.86 668.6,47.83 669.6,47.79 670.6,47.76 671.6,47.73 672.6,47.70 673.6,47.66 674.6,47.63 675.6,47.60 676.6,47.57 677.6,47.54 678.6,47.50 679.6,47.47 680.6,47.44 681.6,47.41 682.6,47.38 683.6,47.35 684.6,47.32 685.6,47.29 686.6,47.26 687.6,47.23 688.6,47.20 689.6,47.17 690.6,47.14 691.6,47.11 692.6,47.08 693.6,47.05 694.6,47.03 695.6,47.00 696.2,46.98" fill="none" stroke="#ffa500" stroke-width="1.2" stroke-linejoin="round"/>
<polyline points="397.6,114.47 398.6,114.14 399.6,113.82 400.6,113.49 401.6,113.17 402.6,112.85 403.6,112.53 404.6,112.21 405.6,111.90 406.6,111.58 407.6,111.27 408.6,110.96 409.6,110.65 410.6,110.34 411.6,110.03 412.6,109.72 413.6,109.42 414.6,109.11 415.6,108.81 416.6,108.51 417.6,108.21 418.6,107.91 419.6,107.61 420.6,107.31 421.6,107.02 422.6,106.73 423.6,106.43 424.6,106.14 425.6,105.85 426.6,105.56 427.6,105.28 428.6,104.99 429.6,104.71 430.6,104.42 431.6,104.14 432.6,103.86 433.6,103.58 434.6,103.31 435.6,103.03 436.6,102.75 437.6,102.48 438.6,102.21 439.6,101.94 440.6,101.67 441.6,101.40 442.6,101.13 443.6,100.86 444.6,100.60 445.6,100.33 446.6,100.07 447.6,99.81 448.6,99.55 449.6,99.29 450.6,99.04 451.6,98.78 452.6,98.52 453.6,98.27 454.6,98.02 455.6,97.77 456.6,97.52 457.6,97.27 458.6,97.02 459.6,96.78 460.6,96.53 461.6,96.29 462.6,96.05 463.6,95.81 464.6,95.57 465.6,95.33 466.6,95.09 467.6,94.85 468.6,94.62 469.6,94.39 470.6,94.15 471.6,93.92 472.6,93.69 473.6,93.46 474.6,93.24 475.6,93.01 476.6,92.79 477.6,92.56 478.6,92.34 479.6,92.12 480.6,91.90 481.6,91.68 482.6,91.46 483.6,91.25 484.6,91.03 485.6,90.82 486.6,90.60 487.6,90.39 488.6,90.18 489.6,89.97 490.6,89.76 491.6,89.56 492.6,89.35 493.6,89.15 494.6,88.94 495.6,88.74 496.6,88.54 497.6,88.34 498.6,88.14 499.6,87.95 500.6,87.75 501.6,87.56 502.6,87.36 503.6,87.17 504.6,86.98 505.6,86.79 506.6,86.60 507.6,86.41 508.6,86.22 509.6,86.04 510.6,85.85 511.6,85.67 512.6,85.49 513.6,85.31 514.6,85.13 515.6,84.95 516.6,84.77 517.6,84.59 518.6,84.42 519.6,84.24 520.6,84.07 521.6,83.90 522.6,83.73 523.6,83.56 524.6,83.39 525.6,83.22 526.6,83.06 527.6,82.89 528.6,82.73 529.6,82.57 530.6,82.40 531.6,82.24 532.6,82.08 533.6,81.93 534.6,81.77 535.6,81.61 536.6,81.46 537.6,81.30 538.6,81.15 539.6,81.00 540.6,80.85 541.6,80.70 542.6,80.55 543.6,80.40 544.6,80.26 545.6,80.11 546.6,79.97 547.6,79.82 548.6,79.68 549.6,79.54 550.6,79.40 551.6,79.26 552.6,79.12 553.6,78.99 554.6,78.85 555.6,78.72 556.6,78.58 557.6,78.45 558.6,78.32 559.6,78.19 560.6,78.06 561.6,77.93 562.6,77.81 563.6,77.68 564.6,77.55 565.6,77.43 566.6,77.31 567.6,77.18 568.6,77.06 569.6,76.94 570.6,76.82 571.6,76.70 572.6,76.59 573.6,76.47 574.6,76.35 575.6,76.24 576.6,76.13 577.6,76.01 578.6,75.90 579.6,75.79 580.6,75.68 581.6,75.57 582.6,75.46 583.6,75.36 584.6,75.25 585.6,75.14 586.6,75.04 587.6,74.94 588.6,74.83 589.6,74.73 590.6,74.63 591.6,74.53 592.6,74.43 593.6,74.33 594.6,74.24 595.6,74.14 596.6,74.04 597.6,73.95 598.6,73.85 599.6,73.76 600.6,73.67 601.6,73.58 602.6,73.49 603.6,73.39 604.6,73.31 605.6,73.22 606.6,73.13 607.6,73.04 608.6,72.96 609.6,72.87 610.6,72.79 611.6,72.70 612.6,72.62 613.6,72.54 614.6,72.46 615.6,72.38 616.6,72.30 617.6,72.22 618.6,72.14 619.6,72.06 620.6,71.98 621.6,71.91 622.6,71.83 623.6,71.76 624.6,71.68 625.6,71.61 626.6,71.54 627.6,71.46 628.6,71.39 629.6,71.32 630.6,71.25 631.6,71.18 632.6,71.11 633.6,71.05 634.6,70.98 635.6,70.91 636.6,70.84 637.6,70.78 638.6,70.71 639.6,70.65 640.6,70.59 641.6,70.52 642.6,70.46 643.6,70.40 644.6,70.34 645.6,70.28 646.6,70.22 647.6,70.16 648.6,70.10 649.6,70.04 650.6,69.99 651.6,69.93 652.6,69.87 653.6,69.82 654.6,69.76 655.6,69.71 656.6,69.65 657.6,69.60 658.6,69.55 659.6,69.49 660.6,69.44 661.6,69.39 662.6,69.34 663.6,69.29 664.6,69.24 665.6,69.19 666.6,69.14 667.6,69.09 668.6,69.05 669.6,69.00 670.6,68.95 671.6,68.90 672.6,68.86 673.6,68.81 674.6,68.77 675.6,68.72 676.6,68.68 677.6,68.64 678.6,68.59 679.6,68.55 680.6,68.51 681.6,68.47 682.6,68.42 683.6,68.38 684.6,68.34 685.6,68.30 686.6,68.26 687.6,68.22 688.6,68.18 689.6,68.15 690.6,68.11 691.6,68.07 692.6,68.03 693.6,68.00 694.6,67.96 695.6,67.92 696.2,67.90" fill="none" stroke="#008b00" stroke-width="1.2" stroke-linejoin="round"/>
<polyline points="397.6,138.95 398.6,138.67 399.6,138.39 400.6,138.11 401.6,137.84 402.6,137.56 403.6,137.28 404.6,137.00 405.6,136.72 406.6,136.45 407.6,136.17 408.6,135.89 409.6,135.62 410.6,135.34 411.6,135.06 412.6,134.79 413.6,134.51 414.6,134.24 415.6,133.96 416.6,133.69 417.6,133.42 418.6,133.14 419.6,132.87 420.6,132.60 421.6,132.32 422.6,132.05 423.6,131.78 424.6,131.51 425.6,131.24 426.6,130.97 427.6,130.70 428.6,130.43 429.6,130.16 430.6,129.89 431.6,129.62 432.6,129.35 433.6,129.08 434.6,128.82 435.6,128.55 436.6,128.28 437.6,128.02 438.6,127.75 439.6,127.49 440.6,127.22 441.6,126.96 442.6,126.70 443.6,126.43 444.6,126.17 445.6,125.91 446.6,125.65 447.6,125.39 448.6,125.13 449.6,124.87 450.6,124.61 451.6,124.35 452.6,124.09 453.6,123.83 454.6,123.58 455.6,123.32 456.6,123.06 457.6,122.81 458.6,122.55 459.6,122.30 460.6,122.05 461.6,121.79 462.6,121.54 463.6,121.29 464.6,121.04 465.6,120.79 466.6,120.54 467.6,120.29 468.6,120.04 469.6,119.80 470.6,119.55 471.6,119.30 472.6,119.06 473.6,118.81 474.6,118.57 475.6,118.33 476.6,118.08 477.6,117.84 478.6,117.60 479.6,117.36 480.6,117.12 481.6,116.88 482.6,116.64 483.6,116.40 484.6,116.17 485.6,115.93 486.6,115.70 487.6,115.46 488.6,115.23 489.6,115.00 490.6,114.76 491.6,114.53 492.6,114.30 493.6,114.07 494.6,113.84 495.6,113.62 496.6,113.39 497.6,113.16 498.6,112.94 499.6,112.71 500.6,112.49 501.6,112.27 502.6,112.04 503.6,111.82 504.6,111.60 505.6,111.38 506.6,111.17 507.6,110.95 508.6,110.73 509.6,110.52 510.6,110.30 511.6,110.09 512.6,109.88 513.6,109.66 514.6,109.45 515.6,109.24 516.6,109.03 517.6,108.83 518.6,108.62 519.6,108.41 520.6,108.21 521.6,108.00 522.6,107.80 523.6,107.60 524.6,107.40 525.6,107.20 526.6,107.00 527.6,106.80 528.6,106.61 529.6,106.41 530.6,106.21 531.6,106.02 532.6,105.83 533.6,105.64 534.6,105.45 535.6,105.26 536.6,105.07 537.6,104.88 538.6,104.70 539.6,104.51 540.6,104.33 541.6,104.14 542.6,103.96 543.6,103.78 544.6,103.60 545.6,103.43 546.6,103.25 547.6,103.07 548.6,102.90 549.6,102.72 550.6,102.55 551.6,102.38 552.6,102.21 553.6,102.04 554.6,101.87 555.6,101.71 556.6,101.54 557.6,101.38 558.6,101.21 559.6,101.05 560.6,100.89 561.6,100.73 562.6,100.57 563.6,100.41 564.6,100.26 565.6,100.10 566.6,99.95 567.6,99.79 568.6,99.64 569.6,99.49 570.6,99.34 571.6,99.19 572.6,99.04 573.6,98.90 574.6,98.75 575.6,98.61 576.6,98.46 577.6,98.32 578.6,98.18 579.6,98.04 580.6,97.90 581.6,97.76 582.6,97.62 583.6,97.49 584.6,97.35 585.6,97.22 586.6,97.08 587.6,96.95 588.6,96.82 589.6,96.69 590.6,96.56 591.6,96.43 592.6,96.31 593.6,96.18 594.6,96.06 595.6,95.93 596.6,95.81 597.6,95.69 598.6,95.57 599.6,95.45 600.6,95.33 601.6,95.21 602.6,95.09 603.6,94.98 604.6,94.86 605.6,94.75 606.6,94.64 607.6,94.52 608.6,94.41 609.6,94.30 610.6,94.19 611.6,94.09 612.6,93.98 613.6,93.87 614.6,93.77 615.6,93.66 616.6,93.56 617.6,93.46 618.6,93.36 619.6,93.26 620.6,93.16 621.6,93.06 622.6,92.96 623.6,92.86 624.6,92.77 625.6,92.67 626.6,92.58 627.6,92.49 628.6,92.40 629.6,92.30 630.6,92.21 631.6,92.12 632.6,92.04 633.6,91.95 634.6,91.86 635.6,91.78 636.6,91.69 637.6,91.61 638.6,91.53 639.6,91.44 640.6,91.36 641.6,91.28 642.6,91.20 643.6,91.12 644.6,91.05 645.6,90.97 646.6,90.89 647.6,90.82 648.6,90.74 649.6,90.67 650.6,90.60 651.6,90.53 652.6,90.46 653.6,90.39 654.6,90.32 655.6,90.25 656.6,90.18 657.6,90.12 658.6,90.05 659.6,89.99 660.6,89.92 661.6,89.86 662.6,89.80 663.6,89.73 664.6,89.67 665.6,89.61 666.6,89.56 667.6,89.50 668.6,89.44 669.6,89.38 670.6,89.33 671.6,89.27 672.6,89.22 673.6,89.16 674.6,89.11 675.6,89.06 676.6,89.01 677.6,88.96 678.6,88.91 679.6,88.86 680.6,88.81 681.6,88.77 682.6,88.72 683.6,88.67 684.6,88.63 685.6,88.59 686.6,88.54 687.6,88.50 688.6,88.46 689.6,88.42 690.6,88.38 691.6,88.34 692.6,88.30 693.6,88.26 694.6,88.22 695.6,88.19 696.2,88.16" fill="none" stroke="#40e0d0" stroke-width="1.2" stroke-linejoin="round"/>
<polyline points="397.6,162.77 398.6,162.46 399.6,162.16 400.6,161.85 401.6,161.55 402.6,161.25 403.6,160.94 404.6,160.64 405.6,160.33 406.6,160.03 407.6,159.72 408.6,159.41 409.6,159.11 410.6,158.80 411.6,158.50 412.6,158.19 413.6,157.89 414.6,157.58 415.6,157.27 416.6,156.97 417.6,156.66 418.6,156.36 419.6,156.05 420.6,155.75 421.6,155.44 422.6,155.13 423.6,154.83 424.6,154.52 425.6,154.22 426.6,153.91 427.6,153.61 428.6,153.30 429.6,153.00 430.6,152.69 431.6,152.39 432.6,152.09 433.6,151.78 434.6,151.48 435.6,151.18 436.6,150.87 437.6,150.57 438.6,150.27 439.6,149.96 440.6,149.66 441.6,149.36 442.6,149.06 443.6,148.76 444.6,148.46 445.6,148.16 446.6,147.86 447.6,147.56 448.6,147.26 449.6,146.96 450.6,146.67 451.6,146.37 452.6,146.07 453.6,145.78 454.6,145.48 455.6,145.19 456.6,144.89 457.6,144.60 458.6,144.30 459.6,144.01 460.6,143.72 461.6,143.43 462.6,143.14 463.6,142.85 464.6,142.56 465.6,142.27 466.6,141.98 467.6,141.69 468.6,141.41 469.6,141.12 470.6,140.83 471.6,140.55 472.6,140.27 473.6,139.98 474.6,139.70 475.6,139.42 476.6,139.14 477.6,138.86 478.6,138.58 479.6,138.30 480.6,138.02 481.6,137.75 482.6,137.47 483.6,137.20 484.6,136.93 485.6,136.65 486.6,136.38 487.6,136.11 488.6,135.84 489.6,135.57 490.6,135.31 491.6,135.04 492.6,134.77 493.6,134.51 494.6,134.25 495.6,133.98 496.6,133.72 497.6,133.46 498.6,133.20 499.6,132.95 500.6,132.69 501.6,132.43 502.6,132.18 503.6,131.93 504.6,131.68 505.6,131.43 506.6,131.18 507.6,130.93 508.6,130.68 509.6,130.44 510.6,130.19 511.6,129.95 512.6,129.71 513.6,129.47 514.6,129.23 515.6,128.99 516.6,128.76 517.6,128.52 518.6,128.29 519.6,128.06 520.6,127.83 521.6,127.60 522.6,127.37 523.6,127.14 524.6,126.92 525.6,126.70 526.6,126.48 527.6,126.26 528.6,126.04 529.6,125.82 530.6,125.61 531.6,125.39 532.6,125.18 533.6,124.97 534.6,124.76 535.6,124.56 536.6,124.35 537.6,124.15 538.6,123.94 539.6,123.74 540.6,123.55 541.6,123.35 542.6,123.15 543.6,122.96 544.6,122.77 545.6,122.58 546.6,122.39 547.6,122.21 548.6,122.02 549.6,121.84 550.6,121.66 551.6,121.48 552.6,121.30 553.6,121.13 554.6,120.96 555.6,120.78 556.6,120.62 557.6,120.45 558.6,120.28 559.6,120.12 560.6,119.96 561.6,119.80 562.6,119.64 563.6,119.49 564.6,119.33 565.6,119.18 566.6,119.03 567.6,118.89 568.6,118.74 569.6,118.60 570.6,118.46 571.6,118.32 572.6,118.18 573.6,118.05 574.6,117.91 575.6,117.78 576.6,117.65 577.6,117.52 578.6,117.40 579.6,117.27 580.6,117.15 581.6,117.03 582.6,116.91 583.6,116.79 584.6,116.67 585.6,116.55 586.6,116.44 587.6,116.33 588.6,116.22 589.6,116.11 590.6,116.00 591.6,115.89 592.6,115.79 593.6,115.68 594.6,115.58 595.6,115.48 596.6,115.38 597.6,115.28 598.6,115.18 599.6,115.08 600.6,114.98 601.6,114.89 602.6,114.79 603.6,114.70 604.6,114.61 605.6,114.52 606.6,114.43 607.6,114.34 608.6,114.25 609.6,114.16 610.6,114.08 611.6,113.99 612.6,113.91 613.6,113.82 614.6,113.74 615.6,113.66 616.6,113.57 617.6,113.49 618.6,113.41 619.6,113.33 620.6,113.25 621.6,113.17 622.6,113.09 623.6,113.01 624.6,112.94 625.6,112.86 626.6,112.78 627.6,112.70 628.6,112.63 629.6,112.55 630.6,112.47 631.6,112.40 632.6,112.32 633.6,112.25 634.6,112.17 635.6,112.10 636.6,112.02 637.6,111.95 638.6,111.87 639.6,111.80 640.6,111.73 641.6,111.65 642.6,111.58 643.6,111.50 644.6,111.43 645.6,111.35 646.6,111.28 647.6,111.21 648.6,111.13 649.6,111.06 650.6,110.99 651.6,110.92 652.6,110.84 653.6,110.77 654.6,110.70 655.6,110.63 656.6,110.55 657.6,110.48 658.6,110.41 659.6,110.34 660.6,110.27 661.6,110.20 662.6,110.12 663.6,110.05 664.6,109.98 665.6,109.91 666.6,109.84 667.6,109.77 668.6,109.70 669.6,109.63 670.6,109.56 671.6,109.49 672.6,109.42 673.6,109.35 674.6,109.29 675.6,109.22 676.6,109.15 677.6,109.08 678.6,109.01 679.6,108.95 680.6,108.88 681.6,108.81 682.6,108.74 683.6,108.68 684.6,108.61 685.6,108.54 686.6,108.48 687.6,108.41 688.6,108.35 689.6,108.28 690.6,108.22 691.6,108.15 692.6,108.09 693.6,108.02 694.6,107.96 695.6,107.90 696.2,107.86" fill="none" stroke="#0000ff" stroke-width="1.2" stroke-linejoin="round"/>
<polyline points="397.6,173.97 398.6,173.64 399.6,173.32 400.6,173.00 401.6,172.68 402.6,172.36 403.6,172.04 404.6,171.71 405.6,171.39 406.6,171.08 407.6,170.76 408.6,170.44 409.6,170.12 410.6,169.80 411.6,169.49 412.6,169.17 413.6,168.85 414.6,168.54 415.6,168.22 416.6,167.91 417.6,167.60 418.6,167.28 419.6,166.97 420.6,166.66 421.6,166.35 422.6,166.04 423.6,165.73 424.6,165.43 425.6,165.12 426.6,164.81 427.6,164.51 428.6,164.20 429.6,163.90 430.6,163.59 431.6,163.29 432.6,162.99 433.6,162.69 434.6,162.39 435.6,162.09 436.6,161.80 437.6,161.50 438.6,161.20 439.6,160.91 440.6,160.62 441.6,160.32 442.6,160.03 443.6,159.74 444.6,159.45 445.6,159.16 446.6,158.88 447.6,158.59 448.6,158.31 449.6,158.02 450.6,157.74 451.6,157.46 452.6,157.18 453.6,156.90 454.6,156.62 455.6,156.35 456.6,156.07 457.6,155.80 458.6,155.53 459.6,155.26 460.6,154.99 461.6,154.72 462.6,154.45 463.6,154.19 464.6,153.92 465.6,153.66 466.6,153.40 467.6,153.14 468.6,152.88 469.6,152.62 470.6,152.37 471.6,152.11 472.6,151.86 473.6,151.61 474.6,151.36 475.6,151.11 476.6,150.87 477.6,150.62 478.6,150.38 479.6,150.14 480.6,149.90 481.6,149.66 482.6,149.43 483.6,149.19 484.6,148.96 485.6,148.73 486.6,148.50 487.6,148.27 488.6,148.05 489.6,147.82 490.6,147.60 491.6,147.38 492.6,147.16 493.6,146.94 494.6,146.73 495.6,146.52 496.6,146.31 497.6,146.10 498.6,145.89 499.6,145.68 500.6,145.48 501.6,145.27 502.6,145.07 503.6,144.87 504.6,144.68 505.6,144.48 506.6,144.29 507.6,144.09 508.6,143.90 509.6,143.71 510.6,143.52 511.6,143.34 512.6,143.15 513.6,142.97 514.6,142.79 515.6,142.61 516.6,142.43 517.6,142.25 518.6,142.08 519.6,141.90 520.6,141.73 521.6,141.56 522.6,141.39 523.6,141.22 524.6,141.05 525.6,140.89 526.6,140.72 527.6,140.56 528.6,140.40 529.6,140.24 530.6,140.08 531.6,139.92 532.6,139.77 533.6,139.61 534.6,139.46 535.6,139.31 536.6,139.16 537.6,139.01 538.6,138.86 539.6,138.72 540.6,138.57 541.6,138.43 542.6,138.28 543.6,138.14 544.6,138.00 545.6,137.86 546.6,137.73 547.6,137.59 548.6,137.45 549.6,137.32 550.6,137.19 551.6,137.05 552.6,136.92 553.6,136.79 554.6,136.67 555.6,136.54 556.6,136.41 557.6,136.29 558.6,136.16 559.6,136.04 560.6,135.92 561.6,135.80 562.6,135.68 563.6,135.56 564.6,135.44 565.6,135.32 566.6,135.21 567.6,135.09 568.6,134.98 569.6,134.87 570.6,134.75 571.6,134.64 572.6,134.53 573.6,134.42 574.6,134.32 575.6,134.21 576.6,134.10 577.6,134.00 578.6,133.89 579.6,133.79 580.6,133.69 581.6,133.59 582.6,133.49 583.6,133.39 584.6,133.29 585.6,133.19 586.6,133.09 587.6,133.00 588.6,132.90 589.6,132.81 590.6,132.72 591.6,132.62 592.6,132.53 593.6,132.44 594.6,132.35 595.6,132.26 596.6,132.18 597.6,132.09 598.6,132.00 599.6,131.92 600.6,131.84 601.6,131.75 602.6,131.67 603.6,131.59 604.6,131.51 605.6,131.43 606.6,131.35 607.6,131.27 608.6,131.20 609.6,131.12 610.6,131.04 611.6,130.97 612.6,130.90 613.6,130.82 614.6,130.75 615.6,130.68 616.6,130.61 617.6,130.54 618.6,130.47 619.6,130.40 620.6,130.34 621.6,130.27 622.6,130.21 623.6,130.14 624.6,130.08 625.6,130.02 626.6,129.95 627.6,129.89 628.6,129.83 629.6,129.77 630.6,129.71 631.6,129.65 632.6,129.60 633.6,129.54 634.6,129.48 635.6,129.43 636.6,129.37 637.6,129.32 638.6,129.27 639.6,129.22 640.6,129.17 641.6,129.11 642.6,129.06 643.6,129.02 644.6,128.97 645.6,128.92 646.6,128.87 647.6,128.83 648.6,128.78 649.6,128.74 650.6,128.69 651.6,128.65 652.6,128.61 653.6,128.57 654.6,128.52 655.6,128.48 656.6,128.44 657.6,128.41 658.6,128.37 659.6,128.33 660.6,128.29 661.6,128.26 662.6,128.22 663.6,128.19 664.6,128.15 665.6,128.12 666.6,128.09 667.6,128.05 668.6,128.02 669.6,127.99 670.6,127.96 671.6,127.93 672.6,127.90 673.6,127.87 674.6,127.85 675.6,127.82 676.6,127.79 677.6,127.77 678.6,127.74 679.6,127.72 680.6,127.69 681.6,127.67 682.6,127.65 683.6,127.62 684.6,127.60 685.6,127.58 686.6,127.56 687.6,127.54 688.6,127.52 689.6,127.50 690.6,127.49 691.6,127.47 692.6,127.45 693.6,127.44 694.6,127.42 695.6,127.41 696.2,127.40" fill="none" stroke="#ff00ff" stroke-width="1.2" stroke-linejoin="round"/>
</g>
<line x1="61.50" y1="225.10" x2="61.50" y2="219.10" stroke="#000" stroke-width="1.35"/>
<line x1="61.50" y1="16.10" x2="61.50" y2="22.10" stroke="#000" stroke-width="1.35"/>
<text x="61.50" y="237.60" font-size="12.4" text-anchor="middle" >0.05</text>
<line x1="78.41" y1="225.10" x2="78.41" y2="221.70" stroke="#000" stroke-width="1.35"/>
<line x1="78.41" y1="16.10" x2="78.41" y2="19.50" stroke="#000" stroke-width="1.35"/>
<line x1="92.71" y1="225.10" x2="92.71" y2="221.70" stroke="#000" stroke-width="1.35"/>
<line x1="92.71" y1="16.10" x2="92.71" y2="19.50" stroke="#000" stroke-width="1.35"/>
<line x1="105.10" y1="225.10" x2="105.10" y2="221.70" stroke="#000" stroke-width="1.35"/>
<line x1="105.10" y1="16.10" x2="105.10" y2="19.50" stroke="#000" stroke-width="1.35"/>
<line x1="116.03" y1="225.10" x2="116.03" y2="221.70" stroke="#000" stroke-width="1.35"/>
<line x1="116.03" y1="16.10" x2="116.03" y2="19.50" stroke="#000" stroke-width="1.35"/>
<line x1="125.80" y1="225.10" x2="125.80" y2="219.10" stroke="#000" stroke-width="1.35"/>
<line x1="125.80" y1="16.10" x2="125.80" y2="22.10" stroke="#000" stroke-width="1.35"/>
<text x="126.50" y="237.60" font-size="12.4" text-anchor="middle" >0.1</text>
<line x1="190.10" y1="225.10" x2="190.10" y2="221.70" stroke="#000" stroke-width="1.35"/>
<line x1="190.10" y1="16.10" x2="190.10" y2="19.50" stroke="#000" stroke-width="1.35"/>
<line x1="227.71" y1="225.10" x2="227.71" y2="221.70" stroke="#000" stroke-width="1.35"/>
<line x1="227.71" y1="16.10" x2="227.71" y2="19.50" stroke="#000" stroke-width="1.35"/>
<line x1="254.40" y1="225.10" x2="254.40" y2="221.70" stroke="#000" stroke-width="1.35"/>
<line x1="254.40" y1="16.10" x2="254.40" y2="19.50" stroke="#000" stroke-width="1.35"/>
<line x1="275.10" y1="225.10" x2="275.10" y2="219.10" stroke="#000" stroke-width="1.35"/>
<line x1="275.10" y1="16.10" x2="275.10" y2="22.10" stroke="#000" stroke-width="1.35"/>
<text x="276.00" y="237.60" font-size="12.4" text-anchor="middle" >0.5</text>
<line x1="292.01" y1="225.10" x2="292.01" y2="221.70" stroke="#000" stroke-width="1.35"/>
<line x1="292.01" y1="16.10" x2="292.01" y2="19.50" stroke="#000" stroke-width="1.35"/>
<line x1="306.31" y1="225.10" x2="306.31" y2="221.70" stroke="#000" stroke-width="1.35"/>
<line x1="306.31" y1="16.10" x2="306.31" y2="19.50" stroke="#000" stroke-width="1.35"/>
<line x1="318.70" y1="225.10" x2="318.70" y2="221.70" stroke="#000" stroke-width="1.35"/>
<line x1="318.70" y1="16.10" x2="318.70" y2="19.50" stroke="#000" stroke-width="1.35"/>
<line x1="329.63" y1="225.10" x2="329.63" y2="221.70" stroke="#000" stroke-width="1.35"/>
<line x1="329.63" y1="16.10" x2="329.63" y2="19.50" stroke="#000" stroke-width="1.35"/>
<text x="341.00" y="237.60" font-size="12.4" text-anchor="middle" >1</text>
<line x1="40.80" y1="220.09" x2="44.20" y2="220.09" stroke="#000" stroke-width="1.35"/>
<line x1="339.40" y1="220.09" x2="336.00" y2="220.09" stroke="#000" stroke-width="1.35"/>
<line x1="40.80" y1="215.85" x2="44.20" y2="215.85" stroke="#000" stroke-width="1.35"/>
<line x1="339.40" y1="215.85" x2="336.00" y2="215.85" stroke="#000" stroke-width="1.35"/>
<line x1="40.80" y1="212.18" x2="44.20" y2="212.18" stroke="#000" stroke-width="1.35"/>
<line x1="339.40" y1="212.18" x2="336.00" y2="212.18" stroke="#000" stroke-width="1.35"/>
<line x1="40.80" y1="208.94" x2="44.20" y2="208.94" stroke="#000" stroke-width="1.35"/>
<line x1="339.40" y1="208.94" x2="336.00" y2="208.94" stroke="#000" stroke-width="1.35"/>
<line x1="40.80" y1="206.04" x2="46.80" y2="206.04" stroke="#000" stroke-width="1.35"/>
<line x1="339.40" y1="206.04" x2="333.40" y2="206.04" stroke="#000" stroke-width="1.35"/>
<text x="38.00" y="213.44" font-size="13" text-anchor="end">10<tspan font-size="7.8" dx="-0.2" dy="-7.3">-2</tspan></text>
<line x1="40.80" y1="186.98" x2="44.20" y2="186.98" stroke="#000" stroke-width="1.35"/>
<line x1="339.40" y1="186.98" x2="336.00" y2="186.98" stroke="#000" stroke-width="1.35"/>
<line x1="40.80" y1="175.83" x2="44.20" y2="175.83" stroke="#000" stroke-width="1.35"/>
<line x1="339.40" y1="175.83" x2="336.00" y2="175.83" stroke="#000" stroke-width="1.35"/>
<line x1="40.80" y1="167.92" x2="44.20" y2="167.92" stroke="#000" stroke-width="1.35"/>
<line x1="339.40" y1="167.92" x2="336.00" y2="167.92" stroke="#000" stroke-width="1.35"/>
<line x1="40.80" y1="161.79" x2="44.20" y2="161.79" stroke="#000" stroke-width="1.35"/>
<line x1="339.40" y1="161.79" x2="336.00" y2="161.79" stroke="#000" stroke-width="1.35"/>
<line x1="40.80" y1="156.77" x2="44.20" y2="156.77" stroke="#000" stroke-width="1.35"/>
<line x1="339.40" y1="156.77" x2="336.00" y2="156.77" stroke="#000" stroke-width="1.35"/>
<line x1="40.80" y1="152.53" x2="44.20" y2="152.53" stroke="#000" stroke-width="1.35"/>
<line x1="339.40" y1="152.53" x2="336.00" y2="152.53" stroke="#000" stroke-width="1.35"/>
<line x1="40.80" y1="148.86" x2="44.20" y2="148.86" stroke="#000" stroke-width="1.35"/>
<line x1="339.40" y1="148.86" x2="336.00" y2="148.86" stroke="#000" stroke-width="1.35"/>
<line x1="40.80" y1="145.62" x2="44.20" y2="145.62" stroke="#000" stroke-width="1.35"/>
<line x1="339.40" y1="145.62" x2="336.00" y2="145.62" stroke="#000" stroke-width="1.35"/>
<line x1="40.80" y1="142.73" x2="46.80" y2="142.73" stroke="#000" stroke-width="1.35"/>
<line x1="339.40" y1="142.73" x2="333.40" y2="142.73" stroke="#000" stroke-width="1.35"/>
<text x="39.00" y="150.13" font-size="13" text-anchor="end">10<tspan font-size="7.8" dx="-0.2" dy="-7.3">-1</tspan></text>
<line x1="40.80" y1="123.67" x2="44.20" y2="123.67" stroke="#000" stroke-width="1.35"/>
<line x1="339.40" y1="123.67" x2="336.00" y2="123.67" stroke="#000" stroke-width="1.35"/>
<line x1="40.80" y1="112.52" x2="44.20" y2="112.52" stroke="#000" stroke-width="1.35"/>
<line x1="339.40" y1="112.52" x2="336.00" y2="112.52" stroke="#000" stroke-width="1.35"/>
<line x1="40.80" y1="104.61" x2="44.20" y2="104.61" stroke="#000" stroke-width="1.35"/>
<line x1="339.40" y1="104.61" x2="336.00" y2="104.61" stroke="#000" stroke-width="1.35"/>
<line x1="40.80" y1="98.47" x2="44.20" y2="98.47" stroke="#000" stroke-width="1.35"/>
<line x1="339.40" y1="98.47" x2="336.00" y2="98.47" stroke="#000" stroke-width="1.35"/>
<line x1="40.80" y1="93.46" x2="44.20" y2="93.46" stroke="#000" stroke-width="1.35"/>
<line x1="339.40" y1="93.46" x2="336.00" y2="93.46" stroke="#000" stroke-width="1.35"/>
<line x1="40.80" y1="89.22" x2="44.20" y2="89.22" stroke="#000" stroke-width="1.35"/>
<line x1="339.40" y1="89.22" x2="336.00" y2="89.22" stroke="#000" stroke-width="1.35"/>
<line x1="40.80" y1="85.55" x2="44.20" y2="85.55" stroke="#000" stroke-width="1.35"/>
<line x1="339.40" y1="85.55" x2="336.00" y2="85.55" stroke="#000" stroke-width="1.35"/>
<line x1="40.80" y1="82.31" x2="44.20" y2="82.31" stroke="#000" stroke-width="1.35"/>
<line x1="339.40" y1="82.31" x2="336.00" y2="82.31" stroke="#000" stroke-width="1.35"/>
<line x1="40.80" y1="79.41" x2="46.80" y2="79.41" stroke="#000" stroke-width="1.35"/>
<line x1="339.40" y1="79.41" x2="333.40" y2="79.41" stroke="#000" stroke-width="1.35"/>
<text x="38.80" y="87.01" font-size="13" text-anchor="end">10<tspan font-size="7.8" dx="-0.5" dy="-8.5">0</tspan></text>
<line x1="40.80" y1="60.35" x2="44.20" y2="60.35" stroke="#000" stroke-width="1.35"/>
<line x1="339.40" y1="60.35" x2="336.00" y2="60.35" stroke="#000" stroke-width="1.35"/>
<line x1="40.80" y1="49.21" x2="44.20" y2="49.21" stroke="#000" stroke-width="1.35"/>
<line x1="339.40" y1="49.21" x2="336.00" y2="49.21" stroke="#000" stroke-width="1.35"/>
<line x1="40.80" y1="41.30" x2="44.20" y2="41.30" stroke="#000" stroke-width="1.35"/>
<line x1="339.40" y1="41.30" x2="336.00" y2="41.30" stroke="#000" stroke-width="1.35"/>
<line x1="40.80" y1="35.16" x2="44.20" y2="35.16" stroke="#000" stroke-width="1.35"/>
<line x1="339.40" y1="35.16" x2="336.00" y2="35.16" stroke="#000" stroke-width="1.35"/>
<line x1="40.80" y1="30.15" x2="44.20" y2="30.15" stroke="#000" stroke-width="1.35"/>
<line x1="339.40" y1="30.15" x2="336.00" y2="30.15" stroke="#000" stroke-width="1.35"/>
<line x1="40.80" y1="25.91" x2="44.20" y2="25.91" stroke="#000" stroke-width="1.35"/>
<line x1="339.40" y1="25.91" x2="336.00" y2="25.91" stroke="#000" stroke-width="1.35"/>
<line x1="40.80" y1="22.24" x2="44.20" y2="22.24" stroke="#000" stroke-width="1.35"/>
<line x1="339.40" y1="22.24" x2="336.00" y2="22.24" stroke="#000" stroke-width="1.35"/>
<line x1="40.80" y1="19.00" x2="44.20" y2="19.00" stroke="#000" stroke-width="1.35"/>
<line x1="339.40" y1="19.00" x2="336.00" y2="19.00" stroke="#000" stroke-width="1.35"/>
<text x="38.80" y="23.70" font-size="13" text-anchor="end">10<tspan font-size="7.8" dx="-0.5" dy="-8.5">1</tspan></text>
<rect x="40.80" y="16.10" width="298.60" height="209.00" fill="none" stroke="#000" stroke-width="1.4"/>
<text x="190.50" y="9.70" font-size="12.7" text-anchor="middle" >isothermal</text>
<line x1="418.30" y1="225.10" x2="418.30" y2="219.10" stroke="#000" stroke-width="1.35"/>
<line x1="418.30" y1="16.10" x2="418.30" y2="22.10" stroke="#000" stroke-width="1.35"/>
<text x="418.30" y="237.60" font-size="12.4" text-anchor="middle" >0.05</text>
<line x1="435.21" y1="225.10" x2="435.21" y2="221.70" stroke="#000" stroke-width="1.35"/>
<line x1="435.21" y1="16.10" x2="435.21" y2="19.50" stroke="#000" stroke-width="1.35"/>
<line x1="449.51" y1="225.10" x2="449.51" y2="221.70" stroke="#000" stroke-width="1.35"/>
<line x1="449.51" y1="16.10" x2="449.51" y2="19.50" stroke="#000" stroke-width="1.35"/>
<line x1="461.90" y1="225.10" x2="461.90" y2="221.70" stroke="#000" stroke-width="1.35"/>
<line x1="461.90" y1="16.10" x2="461.90" y2="19.50" stroke="#000" stroke-width="1.35"/>
<line x1="472.83" y1="225.10" x2="472.83" y2="221.70" stroke="#000" stroke-width="1.35"/>
<line x1="472.83" y1="16.10" x2="472.83" y2="19.50" stroke="#000" stroke-width="1.35"/>
<line x1="482.60" y1="225.10" x2="482.60" y2="219.10" stroke="#000" stroke-width="1.35"/>
<line x1="482.60" y1="16.10" x2="482.60" y2="22.10" stroke="#000" stroke-width="1.35"/>
<text x="483.30" y="237.60" font-size="12.4" text-anchor="middle" >0.1</text>
<line x1="546.90" y1="225.10" x2="546.90" y2="221.70" stroke="#000" stroke-width="1.35"/>
<line x1="546.90" y1="16.10" x2="546.90" y2="19.50" stroke="#000" stroke-width="1.35"/>
<line x1="584.51" y1="225.10" x2="584.51" y2="221.70" stroke="#000" stroke-width="1.35"/>
<line x1="584.51" y1="16.10" x2="584.51" y2="19.50" stroke="#000" stroke-width="1.35"/>
<line x1="611.20" y1="225.10" x2="611.20" y2="221.70" stroke="#000" stroke-width="1.35"/>
<line x1="611.20" y1="16.10" x2="611.20" y2="19.50" stroke="#000" stroke-width="1.35"/>
<line x1="631.90" y1="225.10" x2="631.90" y2="219.10" stroke="#000" stroke-width="1.35"/>
<line x1="631.90" y1="16.10" x2="631.90" y2="22.10" stroke="#000" stroke-width="1.35"/>
<text x="632.80" y="237.60" font-size="12.4" text-anchor="middle" >0.5</text>
<line x1="648.81" y1="225.10" x2="648.81" y2="221.70" stroke="#000" stroke-width="1.35"/>
<line x1="648.81" y1="16.10" x2="648.81" y2="19.50" stroke="#000" stroke-width="1.35"/>
<line x1="663.11" y1="225.10" x2="663.11" y2="221.70" stroke="#000" stroke-width="1.35"/>
<line x1="663.11" y1="16.10" x2="663.11" y2="19.50" stroke="#000" stroke-width="1.35"/>
<line x1="675.50" y1="225.10" x2="675.50" y2="221.70" stroke="#000" stroke-width="1.35"/>
<line x1="675.50" y1="16.10" x2="675.50" y2="19.50" stroke="#000" stroke-width="1.35"/>
<line x1="686.43" y1="225.10" x2="686.43" y2="221.70" stroke="#000" stroke-width="1.35"/>
<line x1="686.43" y1="16.10" x2="686.43" y2="19.50" stroke="#000" stroke-width="1.35"/>
<text x="697.80" y="237.60" font-size="12.4" text-anchor="middle" >1</text>
<text x="394.80" y="232.50" font-size="13" text-anchor="end">10<tspan font-size="7.8" dx="-0.2" dy="-7.3">-2</tspan></text>
<line x1="397.60" y1="204.13" x2="401.00" y2="204.13" stroke="#000" stroke-width="1.35"/>
<line x1="696.20" y1="204.13" x2="692.80" y2="204.13" stroke="#000" stroke-width="1.35"/>
<line x1="397.60" y1="191.86" x2="401.00" y2="191.86" stroke="#000" stroke-width="1.35"/>
<line x1="696.20" y1="191.86" x2="692.80" y2="191.86" stroke="#000" stroke-width="1.35"/>
<line x1="397.60" y1="183.16" x2="401.00" y2="183.16" stroke="#000" stroke-width="1.35"/>
<line x1="696.20" y1="183.16" x2="692.80" y2="183.16" stroke="#000" stroke-width="1.35"/>
<line x1="397.60" y1="176.41" x2="401.00" y2="176.41" stroke="#000" stroke-width="1.35"/>
<line x1="696.20" y1="176.41" x2="692.80" y2="176.41" stroke="#000" stroke-width="1.35"/>
<line x1="397.60" y1="170.89" x2="401.00" y2="170.89" stroke="#000" stroke-width="1.35"/>
<line x1="696.20" y1="170.89" x2="692.80" y2="170.89" stroke="#000" stroke-width="1.35"/>
<line x1="397.60" y1="166.22" x2="401.00" y2="166.22" stroke="#000" stroke-width="1.35"/>
<line x1="696.20" y1="166.22" x2="692.80" y2="166.22" stroke="#000" stroke-width="1.35"/>
<line x1="397.60" y1="162.18" x2="401.00" y2="162.18" stroke="#000" stroke-width="1.35"/>
<line x1="696.20" y1="162.18" x2="692.80" y2="162.18" stroke="#000" stroke-width="1.35"/>
<line x1="397.60" y1="158.62" x2="401.00" y2="158.62" stroke="#000" stroke-width="1.35"/>
<line x1="696.20" y1="158.62" x2="692.80" y2="158.62" stroke="#000" stroke-width="1.35"/>
<line x1="397.60" y1="155.43" x2="403.60" y2="155.43" stroke="#000" stroke-width="1.35"/>
<line x1="696.20" y1="155.43" x2="690.20" y2="155.43" stroke="#000" stroke-width="1.35"/>
<text x="395.80" y="162.83" font-size="13" text-anchor="end">10<tspan font-size="7.8" dx="-0.2" dy="-7.3">-1</tspan></text>
<line x1="397.60" y1="134.46" x2="401.00" y2="134.46" stroke="#000" stroke-width="1.35"/>
<line x1="696.20" y1="134.46" x2="692.80" y2="134.46" stroke="#000" stroke-width="1.35"/>
<line x1="397.60" y1="122.19" x2="401.00" y2="122.19" stroke="#000" stroke-width="1.35"/>
<line x1="696.20" y1="122.19" x2="692.80" y2="122.19" stroke="#000" stroke-width="1.35"/>
<line x1="397.60" y1="113.49" x2="401.00" y2="113.49" stroke="#000" stroke-width="1.35"/>
<line x1="696.20" y1="113.49" x2="692.80" y2="113.49" stroke="#000" stroke-width="1.35"/>
<line x1="397.60" y1="106.74" x2="401.00" y2="106.74" stroke="#000" stroke-width="1.35"/>
<line x1="696.20" y1="106.74" x2="692.80" y2="106.74" stroke="#000" stroke-width="1.35"/>
<line x1="397.60" y1="101.22" x2="401.00" y2="101.22" stroke="#000" stroke-width="1.35"/>
<line x1="696.20" y1="101.22" x2="692.80" y2="101.22" stroke="#000" stroke-width="1.35"/>
<line x1="397.60" y1="96.56" x2="401.00" y2="96.56" stroke="#000" stroke-width="1.35"/>
<line x1="696.20" y1="96.56" x2="692.80" y2="96.56" stroke="#000" stroke-width="1.35"/>
<line x1="397.60" y1="92.52" x2="401.00" y2="92.52" stroke="#000" stroke-width="1.35"/>
<line x1="696.20" y1="92.52" x2="692.80" y2="92.52" stroke="#000" stroke-width="1.35"/>
<line x1="397.60" y1="88.95" x2="401.00" y2="88.95" stroke="#000" stroke-width="1.35"/>
<line x1="696.20" y1="88.95" x2="692.80" y2="88.95" stroke="#000" stroke-width="1.35"/>
<line x1="397.60" y1="85.77" x2="403.60" y2="85.77" stroke="#000" stroke-width="1.35"/>
<line x1="696.20" y1="85.77" x2="690.20" y2="85.77" stroke="#000" stroke-width="1.35"/>
<text x="395.60" y="93.37" font-size="13" text-anchor="end">10<tspan font-size="7.8" dx="-0.5" dy="-8.5">0</tspan></text>
<line x1="397.60" y1="64.79" x2="401.00" y2="64.79" stroke="#000" stroke-width="1.35"/>
<line x1="696.20" y1="64.79" x2="692.80" y2="64.79" stroke="#000" stroke-width="1.35"/>
<line x1="397.60" y1="52.53" x2="401.00" y2="52.53" stroke="#000" stroke-width="1.35"/>
<line x1="696.20" y1="52.53" x2="692.80" y2="52.53" stroke="#000" stroke-width="1.35"/>
<line x1="397.60" y1="43.82" x2="401.00" y2="43.82" stroke="#000" stroke-width="1.35"/>
<line x1="696.20" y1="43.82" x2="692.80" y2="43.82" stroke="#000" stroke-width="1.35"/>
<line x1="397.60" y1="37.07" x2="401.00" y2="37.07" stroke="#000" stroke-width="1.35"/>
<line x1="696.20" y1="37.07" x2="692.80" y2="37.07" stroke="#000" stroke-width="1.35"/>
<line x1="397.60" y1="31.56" x2="401.00" y2="31.56" stroke="#000" stroke-width="1.35"/>
<line x1="696.20" y1="31.56" x2="692.80" y2="31.56" stroke="#000" stroke-width="1.35"/>
<line x1="397.60" y1="26.89" x2="401.00" y2="26.89" stroke="#000" stroke-width="1.35"/>
<line x1="696.20" y1="26.89" x2="692.80" y2="26.89" stroke="#000" stroke-width="1.35"/>
<line x1="397.60" y1="22.85" x2="401.00" y2="22.85" stroke="#000" stroke-width="1.35"/>
<line x1="696.20" y1="22.85" x2="692.80" y2="22.85" stroke="#000" stroke-width="1.35"/>
<line x1="397.60" y1="19.29" x2="401.00" y2="19.29" stroke="#000" stroke-width="1.35"/>
<line x1="696.20" y1="19.29" x2="692.80" y2="19.29" stroke="#000" stroke-width="1.35"/>
<text x="395.60" y="23.70" font-size="13" text-anchor="end">10<tspan font-size="7.8" dx="-0.5" dy="-8.5">1</tspan></text>
<rect x="397.60" y="16.10" width="298.60" height="209.00" fill="none" stroke="#000" stroke-width="1.4"/>
<text x="547.00" y="9.70" font-size="12.7" text-anchor="middle" >adiabatic</text>
<text x="178.70" y="249.5" font-size="13" text-anchor="start">r / r<tspan font-size="8.3" dy="5.1">B</tspan></text>
<text x="535.50" y="249.5" font-size="13" text-anchor="start">r / r<tspan font-size="8.3" dy="5.1">B</tspan></text>
<text transform="translate(10.60,121.00) rotate(-90)" font-size="13" text-anchor="middle">h / r<tspan font-size="8.3" dy="5.1">B</tspan></text>
<text transform="translate(367.40,121.00) rotate(-90)" font-size="13" text-anchor="middle">h / r<tspan font-size="8.3" dy="5.1">B</tspan></text>
<line x1="49.40" y1="39.40" x2="62.70" y2="39.40" stroke="#ff0000" stroke-width="1.2"/>
<text x="68.6" y="41.90" font-size="10.6">q<tspan font-size="7.4" dy="3.4">thermal</tspan><tspan dy="-3.4" dx="0.4"> = 0.1</tspan></text>
<line x1="49.40" y1="53.95" x2="62.70" y2="53.95" stroke="#ffa500" stroke-width="1.2"/>
<text x="68.6" y="56.45" font-size="10.6">q<tspan font-size="7.4" dy="3.4">thermal</tspan><tspan dy="-3.4" dx="0.4"> = 0.25</tspan></text>
<line x1="49.40" y1="68.50" x2="62.70" y2="68.50" stroke="#008b00" stroke-width="1.2"/>
<text x="68.6" y="71.00" font-size="10.6">q<tspan font-size="7.4" dy="3.4">thermal</tspan><tspan dy="-3.4" dx="0.4"> = 0.5</tspan></text>
<line x1="49.40" y1="83.05" x2="62.70" y2="83.05" stroke="#40e0d0" stroke-width="1.2"/>
<text x="68.6" y="85.55" font-size="10.6">q<tspan font-size="7.4" dy="3.4">thermal</tspan><tspan dy="-3.4" dx="0.4"> = 1</tspan></text>
<line x1="49.40" y1="97.60" x2="62.70" y2="97.60" stroke="#0000ff" stroke-width="1.2"/>
<text x="68.6" y="100.10" font-size="10.6">q<tspan font-size="7.4" dy="3.4">thermal</tspan><tspan dy="-3.4" dx="0.4"> = 2</tspan></text>
<line x1="49.40" y1="112.15" x2="62.70" y2="112.15" stroke="#ff00ff" stroke-width="1.2"/>
<text x="68.6" y="114.65" font-size="10.6">q<tspan font-size="7.4" dy="3.4">thermal</tspan><tspan dy="-3.4" dx="0.4"> = 4</tspan></text>
</g>
</svg></div>
</body></html>
